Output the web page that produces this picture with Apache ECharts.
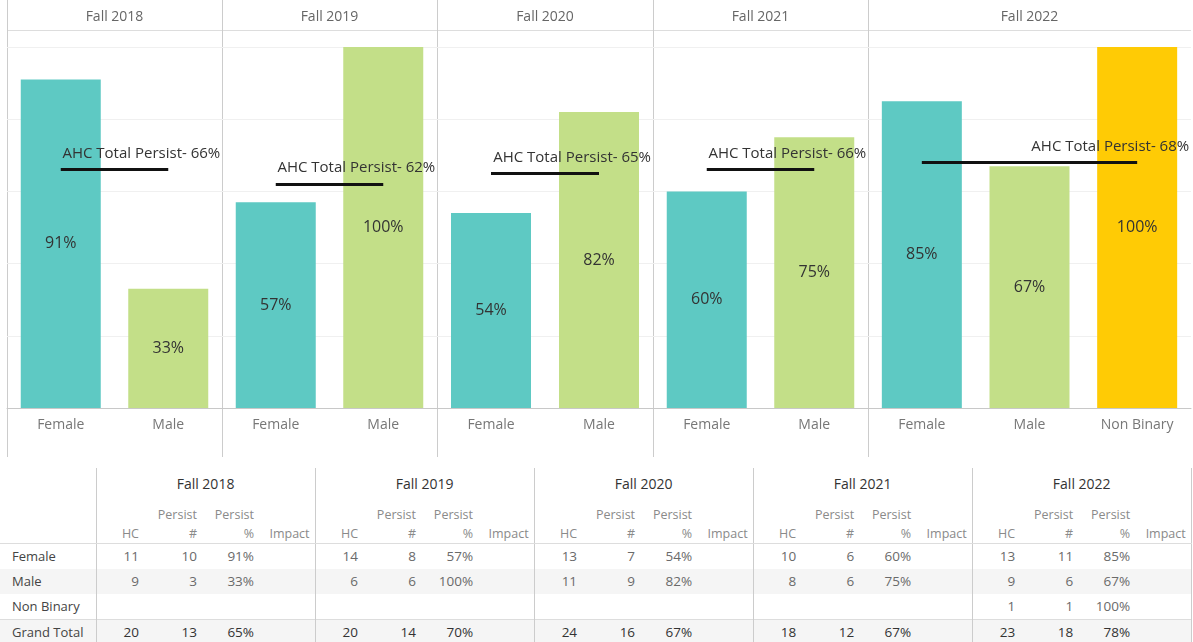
<!DOCTYPE html>
<html>
<head>
<meta charset="utf-8">
<title>AHC Persistence by Gender</title>
<script src="https://cdn.jsdelivr.net/npm/echarts@6/dist/echarts.min.js"></script>
<style>
  body { margin: 0; background: #fff; font-family: 'Open Sans', sans-serif; }
  #chart { position: absolute; left: 0; top: 0; width: 1193px; height: 462px; }
  #tbl { position: absolute; left: 0; top: 468px; width: 1191px; border-collapse: collapse; table-layout: fixed; }
  #tbl td, #tbl th { padding: 0 3px 0 0; text-align: right; font-weight: normal; white-space: nowrap; overflow: hidden; }
  #tbl .grp { text-align: center; font-size: 14px; color: #333; height: 30px; padding: 0; }
  #tbl .sub th { height: 45px; vertical-align: bottom; font-size: 12.5px; line-height: 19px; color: #8a8a8a; border-bottom: 1px solid #ddd; }
  #tbl .sub th.imp { padding-right: 5px; }
  #tbl .row td { height: 25px; line-height: 25px; font-size: 13.5px; color: #6a6a6a; }
  #tbl .row td.lbl { text-align: left; padding-left: 12px; font-size: 13px; color: #444; }
  #tbl .alt td { background: #f5f5f5; }
  #tbl .tot td { border-top: 1px solid #ddd; background: #f5f5f5; color: #333; }
  #tbl .gl { border-left: 1px solid #ccc; }
  #tbl .gr { border-right: 1px solid #ccc; }
</style>
</head>
<body>
<div id="chart"></div>
<table id="tbl"></table>
<script>
// terms and categories
const terms = ['Fall 2018', 'Fall 2019', 'Fall 2020', 'Fall 2021', 'Fall 2022'];
const genders = [
  ['Female', 'Male'],
  ['Female', 'Male'],
  ['Female', 'Male'],
  ['Female', 'Male'],
  ['Female', 'Male', 'Non Binary']
];
// persist % by gender (chart)
const femalePct = [91, 57, 54, 60, 85];
const malePct = [33, 100, 82, 75, 67];
const nonBinaryPct = [null, null, null, null, 100];
const ahcTotalPct = [66, 62, 65, 66, 68];
// table values
const femaleHC = [11, 14, 13, 10, 13];
const femalePersist = [10, 8, 7, 6, 11];
const maleHC = [9, 6, 11, 8, 9];
const malePersist = [3, 6, 9, 6, 6];
const nonBinaryHC = [null, null, null, null, 1];
const nonBinaryPersist = [null, null, null, null, 1];
const totalHC = [20, 20, 24, 18, 23];
const totalPersist = [13, 14, 16, 12, 18];
const totalPct = [65, 70, 67, 67, 78];

const genderColors = { 'Female': '#5ec9c3', 'Male': '#c3df88', 'Non Binary': '#ffcb05' };
const panelEdges = [7, 222, 437, 653, 868, 1191];

function pctFor (g, i) {
  if (g === 'Female') return femalePct[i];
  if (g === 'Male') return malePct[i];
  return nonBinaryPct[i];
}

const myChart = echarts.init(document.getElementById('chart'));
const grids = [], xAxes = [], yAxes = [], series = [];
const graphics = [
  { type: 'line', shape: { x1: 7, y1: 30.5, x2: 1191, y2: 30.5 }, style: { stroke: '#ddd', lineWidth: 1 }, silent: true }
];

terms.forEach((t, i) => {
  const left = panelEdges[i];
  const width = panelEdges[i + 1] - left;
  const cats = genders[i];
  grids.push({ left: left, width: width, top: 47, height: 361 });
  xAxes.push({
    type: 'category', gridIndex: i, data: cats,
    axisLine: { lineStyle: { color: '#c8c8c8' } },
    axisTick: { show: false },
    axisLabel: { color: '#777', fontSize: 14, margin: 10, interval: 0 }
  });
  yAxes.push({
    type: 'value', gridIndex: i, min: 0, max: 100, interval: 20,
    axisLabel: { show: false }, axisLine: { show: false }, axisTick: { show: false },
    splitLine: { lineStyle: { color: '#f0f0f0' } }
  });
  series.push({
    type: 'bar', xAxisIndex: i, yAxisIndex: i, barWidth: 80,
    data: cats.map(g => ({ value: pctFor(g, i), itemStyle: { color: genderColors[g] } })),
    label: { show: true, position: 'inside', color: '#333', fontSize: 16, formatter: '{c}%' },
    markLine: {
      silent: true, symbol: ['none', 'none'],
      lineStyle: { color: '#111', width: 3, type: 'solid' },
      label: { show: false },
      data: [[{ coord: [cats[0], ahcTotalPct[i]] }, { coord: [cats[cats.length - 1], ahcTotalPct[i]] }]]
    },
    markPoint: {
      silent: true, symbol: 'circle', symbolSize: 1,
      itemStyle: { color: 'rgba(0,0,0,0)' },
      label: {
        show: true, position: 'inside', align: 'right', offset: [52, -16],
        color: '#333', fontSize: 15, formatter: 'AHC Total Persist- {c}%'
      },
      data: [{ coord: [cats[cats.length - 1], ahcTotalPct[i]], value: ahcTotalPct[i] }]
    }
  });
  // panel divider and header text
  graphics.push({ type: 'line', shape: { x1: left + 0.5, y1: 0, x2: left + 0.5, y2: 457 }, style: { stroke: '#ccc', lineWidth: 1 }, silent: true });
  graphics.push({
    type: 'text', x: left + width / 2, y: 17,
    style: { text: t, fill: '#666', font: '14px "Open Sans"', textAlign: 'center', textVerticalAlign: 'middle' },
    silent: true
  });
});

myChart.setOption({
  animation: false,
  textStyle: { fontFamily: "'Open Sans', sans-serif" },
  grid: grids,
  xAxis: xAxes,
  yAxis: yAxes,
  series: series,
  graphic: graphics
});

// table below the chart
function fmt (v, pct) { return v == null ? '' : (pct ? v + '%' : v); }
function pctOf (p, h) { return h ? Math.round(p / h * 100) : null; }
const subWidths = [46, 58, 57, 58];
let html = '<colgroup><col style="width:96px">';
terms.forEach(() => { subWidths.forEach(w => { html += '<col style="width:' + w + 'px">'; }); });
html += '</colgroup>';
html += '<tr><th class="grp"></th>';
terms.forEach((t, i) => { html += '<th class="grp gl' + (i === terms.length - 1 ? ' gr' : '') + '" colspan="4">' + t + '</th>'; });
html += '</tr><tr class="sub"><th></th>';
terms.forEach((t, i) => {
  const last = i === terms.length - 1 ? ' gr' : '';
  html += '<th class="gl">HC</th><th>Persist<br>#</th><th>Persist<br>%</th><th class="imp' + last + '">Impact</th>';
});
html += '</tr>';
const rows = [
  { name: 'Female', hc: femaleHC, p: femalePersist, cls: 'row' },
  { name: 'Male', hc: maleHC, p: malePersist, cls: 'row alt' },
  { name: 'Non Binary', hc: nonBinaryHC, p: nonBinaryPersist, cls: 'row' },
  { name: 'Grand Total', hc: totalHC, p: totalPersist, pct: totalPct, cls: 'row tot' }
];
rows.forEach(r => {
  html += '<tr class="' + r.cls + '"><td class="lbl">' + r.name + '</td>';
  terms.forEach((t, i) => {
    const last = i === terms.length - 1 ? ' gr' : '';
    const pct = r.pct ? r.pct[i] : pctOf(r.p[i], r.hc[i]);
    html += '<td class="gl">' + fmt(r.hc[i]) + '</td><td>' + fmt(r.p[i]) + '</td><td>' + fmt(pct, true) + '</td><td class="' + last + '"></td>';
  });
  html += '</tr>';
});
document.getElementById('tbl').innerHTML = html;
</script>
</body>
</html>
